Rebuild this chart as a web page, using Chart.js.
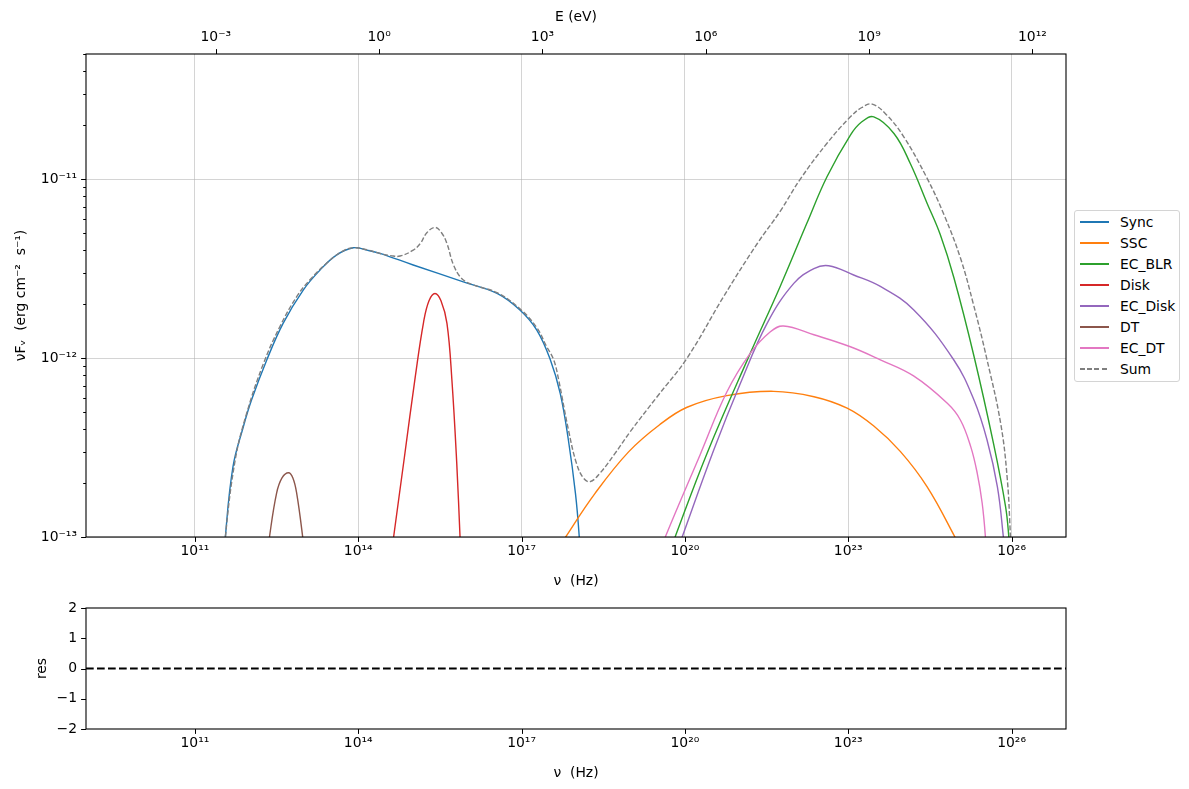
<!DOCTYPE html>
<html>
<head>
<meta charset="utf-8">
<script src="https://cdn.jsdelivr.net/npm/chart.js@4.4.0/dist/chart.umd.min.js"></script>
<style>
  body { margin: 0; background: #fff; width: 1189px; height: 789px; position: relative; overflow: hidden; font-family: 'DejaVu Sans', sans-serif; }
  #sed { position: absolute; left: 0; top: 0; }
  #res { position: absolute; left: 0; top: 589px; }
  #legend { position: absolute; left: 1074px; top: 210px; width: 106px; height: 172px; border: 1px solid #d4d4d4; border-radius: 3px; box-sizing: border-box; background: #fff; }
  .item { position: absolute; left: 0; width: 100%; height: 16px; font-size: 13.9px; line-height: 16px; color: #000; }
  .item .s { position: absolute; left: 5px; top: 7px; width: 29px; height: 1.5px; }
  .item .t { position: absolute; left: 45px; top: 0; white-space: nowrap; }
</style>
</head>
<body>
<canvas id="sed" width="1189" height="590"></canvas>
<canvas id="res" width="1189" height="200"></canvas>
<div id="legend"></div>
<script>
// values: log10(nu / Hz) and log10(nuFnu / erg cm^-2 s^-1)
const syncLogNu = [11.53, 11.56, 11.70, 11.89, 12.04, 12.32, 12.62, 12.99, 13.30, 13.60, 13.91, 14.16, 14.40, 15.01, 15.93, 16.55, 16.97, 17.28, 17.53, 17.71, 17.86, 17.99, 18.06, 18.08];
const syncLogF  = [-13.2, -13.0, -12.607, -12.384, -12.235, -12.011, -11.806, -11.620, -11.508, -11.425, -11.384, -11.397, -11.415, -11.48, -11.574, -11.639, -11.732, -11.844, -12.011, -12.197, -12.458, -12.756, -13.0, -13.15];

const sscLogNu = [17.76, 17.81, 18.35, 18.97, 19.53, 20.04, 20.77, 21.63, 22.37, 22.98, 23.47, 23.96, 24.45, 24.96, 25.00];
const sscLogF  = [-13.03, -13.0, -12.756, -12.523, -12.374, -12.275, -12.21, -12.186, -12.216, -12.28, -12.38, -12.523, -12.72, -13.0, -13.03];

const blrLogNu = [19.78, 19.82, 20.41, 21.20, 21.75, 22.24, 22.61, 23.04, 23.25, 23.47, 23.84, 24.14, 24.45, 24.69, 24.94, 25.31, 25.67, 25.89, 25.95, 25.97];
const blrLogF  = [-13.04, -13.0, -12.53, -11.974, -11.60, -11.247, -10.987, -10.754, -10.68, -10.652, -10.745, -10.913, -11.136, -11.31, -11.55, -11.99, -12.48, -12.83, -13.0, -13.1];

const diskLogNu = [14.63, 14.65, 14.85, 15.05, 15.20, 15.30, 15.41, 15.52, 15.63, 15.72, 15.81, 15.87, 15.88];
const diskLogF  = [-13.05, -13.0, -12.55, -12.10, -11.80, -11.68, -11.639, -11.68, -11.806, -12.12, -12.59, -13.0, -13.07];

const ecDiskLogNu = [19.93, 19.95, 20.53, 21.02, 21.51, 22.00, 22.37, 22.64, 23.10, 23.59, 24.20, 24.94, 25.31, 25.55, 25.74, 25.85, 25.86];
const ecDiskLogF  = [-13.02, -13.0, -12.514, -12.141, -11.806, -11.583, -11.50, -11.484, -11.536, -11.60, -11.73, -12.011, -12.235, -12.458, -12.72, -13.0, -13.05];

const dtLogNu = [12.36, 12.37, 12.50, 12.60, 12.72, 12.80, 12.87, 12.98, 12.99];
const dtLogF  = [-13.05, -13.0, -12.756, -12.67, -12.641, -12.67, -12.756, -13.0, -13.05];

const ecDtLogNu = [19.62, 19.64, 20.28, 20.77, 21.20, 21.57, 21.81, 22.37, 23.04, 23.59, 24.20, 24.82, 25.06, 25.25, 25.37, 25.46, 25.52, 25.53];
const ecDtLogF  = [-13.03, -13.0, -12.54, -12.19, -11.974, -11.853, -11.821, -11.87, -11.937, -12.01, -12.10, -12.253, -12.346, -12.495, -12.644, -12.81, -13.0, -13.1];

const sumLogNu = [11.53, 11.56, 11.74, 11.95, 12.26, 12.56, 12.87, 13.11, 13.42, 13.70, 13.91, 14.16, 14.40, 14.60, 14.77, 15.01, 15.14, 15.26, 15.41, 15.53, 15.63, 15.75, 15.90, 16.10, 16.55, 16.97, 17.28, 17.45, 17.59, 17.68, 17.86, 18.01, 18.14, 18.26, 18.45, 18.70, 19.00, 19.49, 20.04, 20.71, 21.33, 21.75, 22.12, 22.61, 23.04, 23.25, 23.44, 23.71, 24.02, 24.45, 24.76, 25.06, 25.30, 25.55, 25.80, 25.92, 25.98, 26.00];
const sumLogF  = [-13.2, -13.0, -12.57, -12.31, -12.03, -11.825, -11.657, -11.564, -11.47, -11.405, -11.384, -11.395, -11.416, -11.428, -11.43, -11.397, -11.36, -11.30, -11.27, -11.30, -11.36, -11.48, -11.555, -11.59, -11.635, -11.725, -11.83, -11.93, -12.01, -12.12, -12.40, -12.59, -12.672, -12.691, -12.64, -12.54, -12.41, -12.216, -12.0, -11.657, -11.36, -11.18, -11.0, -10.80, -10.652, -10.60, -10.581, -10.643, -10.764, -10.996, -11.20, -11.44, -11.70, -12.01, -12.365, -12.67, -13.0, -13.15];

const resLogNu = [9, 27];
const resValues = [0, 0];

const seriesNames = ['Sync', 'SSC', 'EC_BLR', 'Disk', 'EC_Disk', 'DT', 'EC_DT', 'Sum'];
const seriesNu = [syncLogNu, sscLogNu, blrLogNu, diskLogNu, ecDiskLogNu, dtLogNu, ecDtLogNu, sumLogNu];
const seriesF = [syncLogF, sscLogF, blrLogF, diskLogF, ecDiskLogF, dtLogF, ecDtLogF, sumLogF];
const seriesColors = ['#1f77b4', '#ff7f0e', '#2ca02c', '#d62728', '#9467bd', '#8c564b', '#e377c2', '#7f7f7f'];

const nuTickExp = [11, 14, 17, 20, 23, 26];
const eTickExp = [-3, 0, 3, 6, 9, 12];
const fTickExp = [-13, -12, -11];
const resTicks = [-2, -1, 0, 1, 2];

const H_EV = 4.135667e-15; // eV s, nu -> E for the top axis
const NU_MIN = 1e9, NU_MAX = 1e27;

Chart.defaults.font.family = "'DejaVu Sans', sans-serif";
Chart.defaults.font.size = 13.9;
Chart.defaults.color = '#000';

const SUP = { '-': '⁻', '0': '⁰', '1': '¹', '2': '²', '3': '³', '4': '⁴', '5': '⁵', '6': '⁶', '7': '⁷', '8': '⁸', '9': '⁹' };
const pow10 = v => '10' + String(Math.round(Math.log10(v))).split('').map(c => SUP[c]).join('');

const gridColor = 'rgba(176,176,176,0.55)';

// frame + matplotlib-like tick marks (majors 4.9px, log minors 2.8px on y)
const frameTicks = {
  id: 'frameTicks',
  afterDraw(chart) {
    const { ctx, chartArea: a } = chart;
    ctx.save();
    ctx.strokeStyle = '#000';
    ctx.lineWidth = 1.1;
    ctx.strokeRect(a.left, a.top, a.right - a.left, a.bottom - a.top);
    ctx.lineWidth = 1;
    ctx.beginPath();
    const mark = (s, v, len) => {
      const p = Math.round(s.getPixelForValue(v)) + 0.5;
      if (s.position === 'bottom') { ctx.moveTo(p, a.bottom); ctx.lineTo(p, a.bottom + len); }
      else if (s.position === 'top') { ctx.moveTo(p, a.top); ctx.lineTo(p, a.top - len); }
      else { ctx.moveTo(a.left, p); ctx.lineTo(a.left - len, p); }
    };
    Object.values(chart.scales).forEach(s => {
      s.ticks.forEach(t => mark(s, t.value, 4.9));
      if (s.axis === 'y' && s.type === 'logarithmic') {
        for (let n = Math.floor(Math.log10(s.min)); n <= Math.ceil(Math.log10(s.max)); n++) {
          for (let k = 2; k <= 9; k++) {
            const v = k * Math.pow(10, n);
            if (v > s.min && v < s.max) mark(s, v, 2.8);
          }
        }
      }
    });
    ctx.stroke();
    ctx.restore();
  }
};

const datasets = seriesNames.map((name, i) => ({
  label: name,
  data: seriesNu[i].map((lx, j) => ({ x: Math.pow(10, lx), y: Math.pow(10, seriesF[i][j]) })),
  borderColor: seriesColors[i],
  borderWidth: 1.4,
  borderDash: name === 'Sum' ? [5, 2.2] : [],
  pointRadius: 0,
  fill: false,
  tension: 0.4,
  order: seriesNames.length - i
}));

new Chart(document.getElementById('sed'), {
  type: 'line',
  data: { datasets },
  options: {
    animation: false,
    responsive: false,
    devicePixelRatio: 1,
    layout: { padding: { left: 0, right: 123, top: 0, bottom: 0 } },
    plugins: { legend: { display: false }, tooltip: { enabled: false } },
    scales: {
      x: {
        type: 'logarithmic', position: 'bottom', min: NU_MIN, max: NU_MAX,
        afterBuildTicks: s => { s.ticks = nuTickExp.map(e => ({ value: Math.pow(10, e) })); },
        afterFit: s => { s.height = 53; },
        ticks: { callback: v => pow10(v), padding: 6, maxRotation: 0, autoSkip: false },
        grid: { color: gridColor, lineWidth: 1, drawTicks: false },
        border: { display: false },
        title: { display: true, text: 'ν  (Hz)', padding: { top: 0, bottom: 0 } }
      },
      xE: {
        type: 'logarithmic', position: 'top', min: NU_MIN * H_EV, max: NU_MAX * H_EV,
        afterBuildTicks: s => { s.ticks = eTickExp.map(e => ({ value: Math.pow(10, e) })); },
        afterFit: s => { s.height = 54; },
        ticks: { callback: v => pow10(v), padding: 8, maxRotation: 0, autoSkip: false },
        grid: { display: false, drawTicks: false },
        border: { display: false },
        title: { display: true, text: 'E (eV)', padding: { top: 9, bottom: 0 } }
      },
      y: {
        type: 'logarithmic', position: 'left', min: 1e-13, max: 5e-11,
        afterBuildTicks: s => { s.ticks = fTickExp.map(e => ({ value: Math.pow(10, e) })); },
        afterFit: s => { s.width = 86; },
        ticks: { callback: v => pow10(v), padding: 9, autoSkip: false },
        grid: { color: gridColor, lineWidth: 1, drawTicks: false },
        border: { display: false },
        title: { display: true, text: 'νFᵥ  (erg cm⁻²  s⁻¹)', padding: { top: 13, bottom: 0 } }
      }
    }
  },
  plugins: [frameTicks]
});

new Chart(document.getElementById('res'), {
  type: 'line',
  data: {
    datasets: [{
      label: 'res',
      data: resLogNu.map((lx, j) => ({ x: Math.pow(10, lx), y: resValues[j] })),
      borderColor: '#000',
      borderWidth: 2.1,
      borderDash: [7.7, 3.3],
      pointRadius: 0
    }]
  },
  options: {
    animation: false,
    responsive: false,
    devicePixelRatio: 1,
    layout: { padding: { left: 0, right: 123, top: 19, bottom: 0 } },
    plugins: { legend: { display: false }, tooltip: { enabled: false } },
    scales: {
      x: {
        type: 'logarithmic', position: 'bottom', min: NU_MIN, max: NU_MAX,
        afterBuildTicks: s => { s.ticks = nuTickExp.map(e => ({ value: Math.pow(10, e) })); },
        afterFit: s => { s.height = 60; },
        ticks: { callback: v => pow10(v), padding: 6, maxRotation: 0, autoSkip: false },
        grid: { display: false, drawTicks: false },
        border: { display: false },
        title: { display: true, text: 'ν  (Hz)', padding: { top: 0, bottom: 7 } }
      },
      y: {
        type: 'linear', position: 'left', min: -2, max: 2,
        afterBuildTicks: s => { s.ticks = resTicks.map(v => ({ value: v })); },
        afterFit: s => { s.width = 86; },
        ticks: { callback: v => String(v).replace('-', '−'), padding: 9, autoSkip: false },
        grid: { display: false, drawTicks: false },
        border: { display: false },
        title: { display: true, text: 'res', padding: { top: 34, bottom: 0 } }
      }
    }
  },
  plugins: [frameTicks]
});

// legend box on the right
const legend = document.getElementById('legend');
seriesNames.forEach((name, i) => {
  const row = document.createElement('div');
  row.className = 'item';
  row.style.top = Math.round(2.7 + i * 21.05) + 'px';
  const sample = document.createElement('span');
  sample.className = 's';
  sample.style.background = name === 'Sum'
    ? 'repeating-linear-gradient(90deg, ' + seriesColors[i] + ' 0 5px, transparent 5px 7.2px)'
    : seriesColors[i];
  const text = document.createElement('span');
  text.className = 't';
  text.textContent = name;
  row.appendChild(sample);
  row.appendChild(text);
  legend.appendChild(row);
});
</script>
</body>
</html>
